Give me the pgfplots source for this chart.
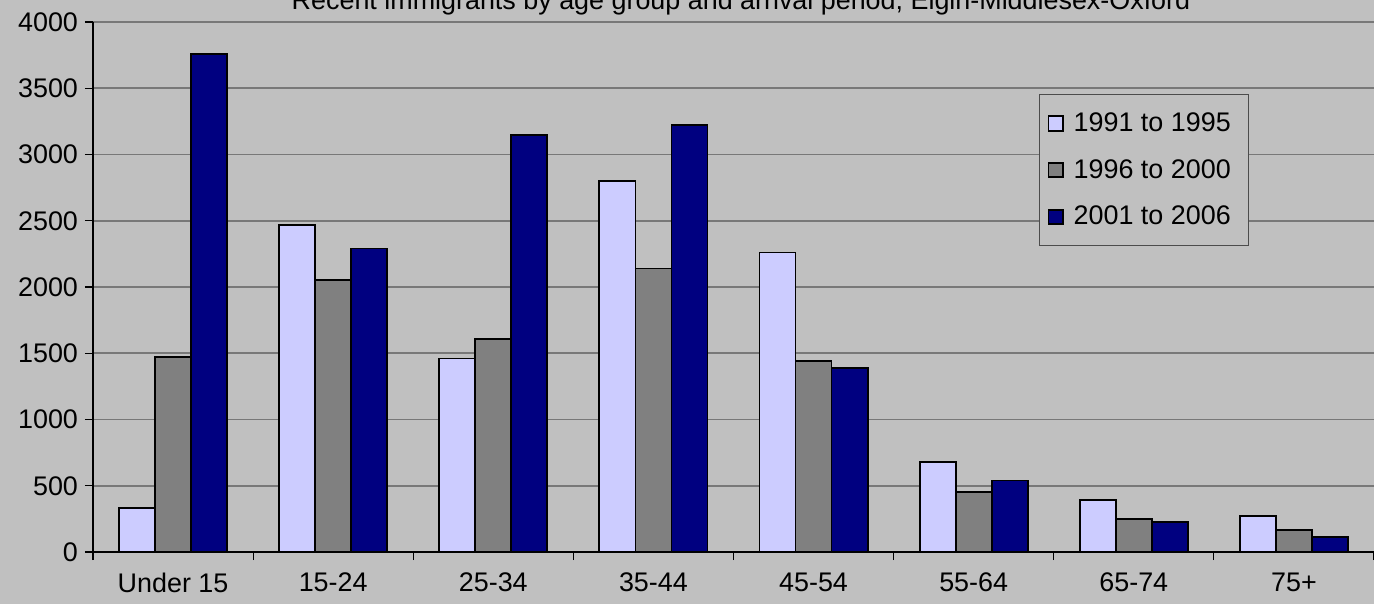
\documentclass[border=0pt]{standalone}
\usepackage{fontspec}
\setmainfont{Liberation Sans}
\usepackage{pgfplots}
\pgfplotsset{compat=1.18}
\definecolor{bgsilver}{RGB}{192,192,192}
\definecolor{lav}{RGB}{204,204,255}
\definecolor{midgray}{RGB}{128,128,128}
\definecolor{navyblue}{RGB}{0,0,128}
\definecolor{gridgray}{RGB}{120,120,120}

\begin{document}
\begin{tikzpicture}
\fill[bgsilver] (-46.5bp,-26bp) rectangle (640.5bp,276bp);
\begin{axis}[
    at={(0,0)}, anchor=south west,
    scale only axis,
    width=640.5bp, height=265bp,
    ybar=0pt, bar width=0.225,
    xmin=-0.5, xmax=7.5,
    ymin=0, ymax=4000,
    axis lines*=left,
    axis line style={black, line width=0.6bp},
    xtick={0,...,7},
    xticklabels={Under 15,15-24,25-34,35-44,45-54,55-64,65-74,75+},
    major x tick style={draw=none},
    minor xtick={-0.5,0.5,...,7.5},
    minor tick length=4bp,
    ytick={0,500,...,4000},
    major tick length=4bp,
    tick align=outside,
    tick style={black, line width=0.6bp},
    ymajorgrids,
    major grid style={gridgray, line width=0.8bp},
    tick label style={font=\fontsize{13.5}{15}\selectfont},
    xticklabel style={yshift=-3bp},
    /pgf/number format/assume math mode=true,
    yticklabel style={/pgf/number format/1000 sep={}},
    scaled y ticks=false,
    every axis plot/.append style={draw=black, line width=0.9bp},
    legend image code/.code={\draw[#1, line width=0.9bp] (0bp,-3.6bp) rectangle (7.2bp,3.6bp);},
    legend style={at={(0.7385,0.864)}, anchor=north west, fill=bgsilver,
        draw=black!70, line width=0.5bp,
        font=\fontsize{13.5}{15}\selectfont,
        row sep=8.5bp, inner xsep=4bp, inner ysep=7bp,
        nodes={inner xsep=5bp}},
    legend cell align=left,
]
\addplot[fill=lav] coordinates {(0,330) (1,2470) (2,1460) (3,2800) (4,2260) (5,680) (6,390) (7,272)};
\addlegendentry{1991 to 1995}
\addplot[fill=midgray] coordinates {(0,1470) (1,2050) (2,1610) (3,2140) (4,1440) (5,455) (6,250) (7,166)};
\addlegendentry{1996 to 2000}
\addplot[fill=navyblue] coordinates {(0,3760) (1,2290) (2,3150) (3,3220) (4,1390) (5,540) (6,226) (7,111)};
\addlegendentry{2001 to 2006}
\end{axis}
\node[anchor=base, font=\fontsize{13.5}{15}\selectfont] at (324bp,271bp)
    {Recent immigrants by age group and arrival period, Elgin-Middlesex-Oxford};
\pgfresetboundingbox
\useasboundingbox (-46.5bp,-26bp) rectangle (640.5bp,276bp);
\end{tikzpicture}
\end{document}
